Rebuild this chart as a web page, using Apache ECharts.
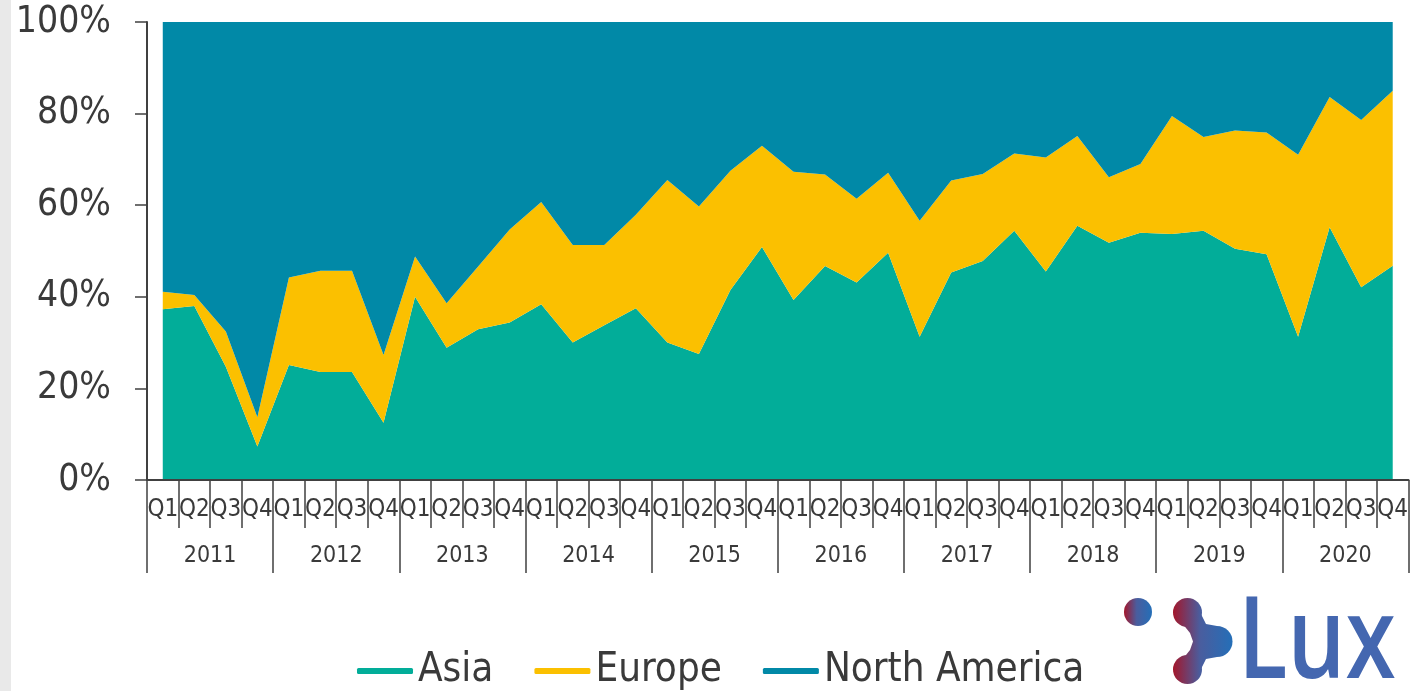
<!DOCTYPE html>
<html>
<head>
<meta charset="utf-8">
<script src="https://cdn.jsdelivr.net/npm/echarts@6/dist/echarts.min.js"></script>
<style>
  html, body { margin: 0; padding: 0; background: #ffffff; }
  #chart { width: 1411px; height: 691px; }
</style>
</head>
<body>
<div id="chart"></div>
<script>
// Quarterly share by region, 2011 Q1 – 2020 Q4 (percent of total)
const years = ['2011', '2012', '2013', '2014', '2015', '2016', '2017', '2018', '2019', '2020'];
const quarterNames = ['Q1', 'Q2', 'Q3', 'Q4'];
const quarters = [];
years.forEach(function () { quarterNames.forEach(function (q) { quarters.push(q); }); });

const asia = [
  37.3, 38.0, 24.7, 7.3,
  25.1, 23.6, 23.6, 12.5,
  40.0, 28.9, 32.9, 34.4,
  38.4, 30.0, 33.8, 37.5,
  30.0, 27.5, 41.5, 50.9,
  39.3, 46.7, 43.1, 49.6,
  31.3, 45.3, 47.8, 54.4,
  45.5, 55.5, 51.8, 54.0,
  53.7, 54.4, 50.5, 49.3,
  31.3, 55.2, 42.1, 46.8
];
const europe = [
  3.8, 2.4, 7.7, 6.4,
  19.1, 22.1, 22.1, 14.8,
  8.8, 9.7, 13.7, 20.3,
  22.3, 21.3, 17.5, 20.4,
  35.5, 32.2, 26.0, 22.1,
  28.0, 20.0, 18.3, 17.5,
  25.3, 20.1, 19.0, 16.9,
  24.9, 19.6, 14.3, 15.0,
  25.8, 20.5, 25.8, 26.6,
  39.7, 28.4, 36.5, 38.2
];
const northAmerica = [
  58.9, 59.6, 67.6, 86.3,
  55.8, 54.3, 54.3, 72.7,
  51.2, 61.4, 53.4, 45.3,
  39.3, 48.7, 48.7, 42.1,
  34.5, 40.3, 32.5, 27.0,
  32.7, 33.3, 38.6, 32.9,
  43.4, 34.6, 33.2, 28.7,
  29.6, 24.9, 33.9, 31.0,
  20.5, 25.1, 23.7, 24.1,
  29.0, 16.4, 21.4, 15.0
];

const FONT = '"DejaVu Sans Condensed", "DejaVu Sans", sans-serif';
const INK = '#3a3a3a';
const AXIS = '#404040';

const chart = echarts.init(document.getElementById('chart'), null, { renderer: 'canvas' });

function areaSeries(name, data, color) {
  return {
    name: name,
    type: 'line',
    stack: 'share',
    data: data,
    symbol: 'none',
    lineStyle: { width: 0 },
    itemStyle: { color: color },
    areaStyle: { color: color, opacity: 1 },
    emphasis: { disabled: true },
    z: 1
  };
}

// Logo gradient, red on the left fading into blue on the right
function globalGradient(x0, x1) {
  return {
    type: 'linear', x: x0, y: 0, x2: x1, y2: 0, global: true,
    colorStops: [
      { offset: 0, color: '#a3172b' },
      { offset: 0.45, color: '#4a5d9e' },
      { offset: 1, color: '#246fb8' }
    ]
  };
}
const markFill = globalGradient(1173, 1233);

chart.setOption({
  animation: false,
  backgroundColor: '#ffffff',
  grid: { left: 147, top: 22, width: 1268, height: 458, containLabel: false },
  legend: {
    data: ['Asia', 'Europe', 'North America'],
    left: 357,
    top: 651,
    padding: 0,
    icon: 'roundRect',
    itemWidth: 56,
    itemHeight: 6,
    itemGap: 41,
    textStyle: { fontFamily: FONT, fontSize: 40, color: INK }
  },
  xAxis: [
    {
      type: 'category',
      data: quarters,
      boundaryGap: true,
      position: 'bottom',
      axisLine: { show: true, lineStyle: { color: AXIS, width: 2 } },
      axisTick: { show: true, interval: 0, length: 48, lineStyle: { color: AXIS, width: 1.5 } },
      axisLabel: { interval: 0, margin: 18, fontFamily: FONT, fontSize: 24, color: INK },
      splitLine: { show: false },
      z: 5
    },
    {
      type: 'category',
      data: years,
      boundaryGap: true,
      position: 'bottom',
      axisLine: { show: false },
      axisTick: { show: true, interval: 0, length: 93, lineStyle: { color: AXIS, width: 1.5 } },
      axisLabel: { interval: 0, margin: 65, fontFamily: FONT, fontSize: 23, color: INK },
      splitLine: { show: false },
      z: 5
    }
  ],
  yAxis: {
    type: 'value',
    min: 0,
    max: 100,
    interval: 20,
    axisLine: { show: true, lineStyle: { color: AXIS, width: 2 } },
    axisTick: { show: true, length: 12, lineStyle: { color: AXIS, width: 1.5 } },
    axisLabel: { formatter: '{value}%', margin: 36, fontFamily: FONT, fontSize: 37, color: INK },
    splitLine: { show: false },
    z: 5
  },
  series: [
    areaSeries('Asia', asia, '#02ad99'),
    areaSeries('Europe', europe, '#fbc000'),
    areaSeries('North America', northAmerica, '#0189a7')
  ],
  graphic: [
    { type: 'rect', left: 0, top: 0, shape: { width: 11, height: 691 }, style: { fill: '#e9e9e9' }, silent: true },
    { type: 'circle', shape: { cx: 1138, cy: 612, r: 14 }, style: { fill: globalGradient(1124, 1152) }, silent: true },
    {
      type: 'group',
      silent: true,
      children: [
        { type: 'circle', shape: { cx: 1187.5, cy: 612.5, r: 14.5 }, style: { fill: markFill } },
        { type: 'circle', shape: { cx: 1187.5, cy: 669.5, r: 14.5 }, style: { fill: markFill } },
        { type: 'circle', shape: { cx: 1217, cy: 641.5, r: 15.5 }, style: { fill: markFill } },
        {
          type: 'polygon',
          shape: {
            points: [[1187.5, 612.5], [1201.5, 615], [1206, 624], [1217, 626], [1217, 657], [1206, 659],
                     [1201.5, 668], [1187.5, 669.5], [1182, 660], [1190, 650], [1193, 641.5], [1190, 633], [1182, 623]]
          },
          style: { fill: markFill }
        }
      ]
    },
    {
      type: 'text',
      x: 1238,
      y: 589,
      scaleX: 0.8,
      style: {
        text: 'Lux',
        fill: '#4467b0',
        font: '600 114px "Open Sans", sans-serif'
      },
      silent: true
    }
  ]
});
</script>
</body>
</html>
